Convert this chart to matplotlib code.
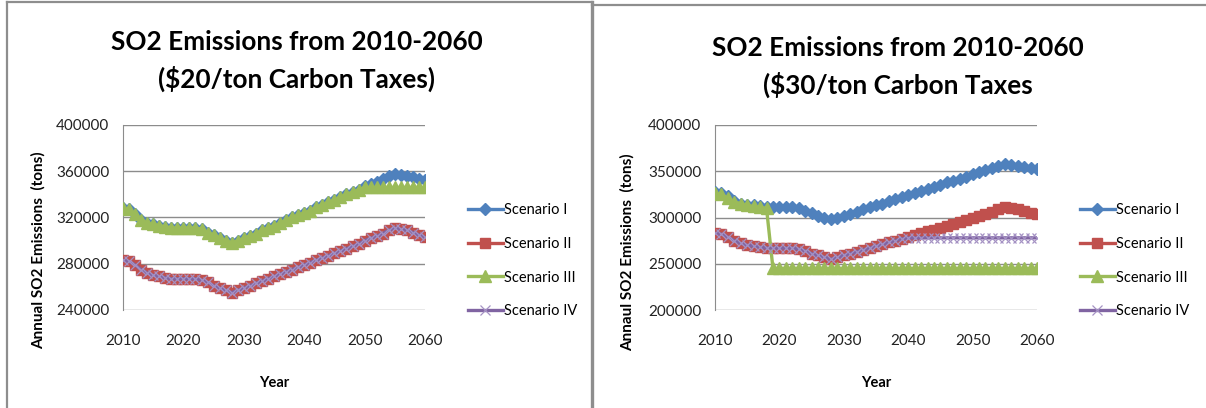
import numpy as np
import matplotlib
matplotlib.use("Agg")
import matplotlib.pyplot as plt
from matplotlib.lines import Line2D

# years on the x axis
years = np.arange(2010, 2061)

# $20/ton carbon tax
tax20_I = [328000, 327000, 323000, 318000, 315000, 314000, 313000, 312000, 311000, 311000,
           311000, 311000, 311000, 310000, 307000, 305000, 302000, 300000, 298000, 300000,
           302000, 304000, 306000, 309000, 311000, 313000, 315000, 318000, 320000, 322000,
           324000, 326000, 329000, 331000, 333000, 335000, 338000, 340000, 342000, 344000,
           347000, 349000, 351000, 353000, 356000, 358000, 357000, 356000, 355000, 353000,
           352000]
tax20_II = [283000, 282000, 279000, 275000, 272000, 270000, 269000, 268000, 267000, 267000,
            267000, 267000, 267000, 266000, 264000, 261000, 259000, 257000, 255000, 257000,
            259000, 261000, 263000, 265000, 267000, 269000, 271000, 273000, 275000, 277000,
            279000, 281000, 283000, 285000, 287000, 289000, 291000, 293000, 295000, 297000,
            300000, 302000, 304000, 306000, 309000, 311000, 310000, 309000, 307000, 305000,
            303000]
tax20_III = [328000, 327000, 323000, 318000, 315000, 314000, 313000, 312000, 311000, 311000,
             311000, 311000, 311000, 310000, 307000, 305000, 302000, 300000, 298000, 300000,
             302000, 304000, 306000, 309000, 311000, 313000, 315000, 318000, 320000, 322000,
             324000, 326000, 329000, 331000, 333000, 335000, 338000, 340000, 342000, 344000,
             346000, 346000, 346000, 346000, 346000, 346000, 346000, 346000, 346000, 346000,
             346000]
tax20_IV = [283000, 282000, 279000, 275000, 272000, 270000, 269000, 268000, 267000, 267000,
            267000, 267000, 267000, 266000, 264000, 261000, 259000, 257000, 255000, 257000,
            259000, 261000, 263000, 265000, 267000, 269000, 271000, 273000, 275000, 277000,
            279000, 281000, 283000, 285000, 287000, 289000, 291000, 293000, 295000, 297000,
            300000, 302000, 304000, 306000, 309000, 311000, 310000, 309000, 307000, 305000,
            303000]

# $30/ton carbon tax
tax30_I = [328000, 327000, 323000, 318000, 315000, 314000, 313000, 312000, 311000, 311000,
           311000, 311000, 311000, 310000, 307000, 305000, 302000, 300000, 298000, 300000,
           302000, 304000, 306000, 309000, 311000, 313000, 315000, 318000, 320000, 322000,
           324000, 326000, 329000, 331000, 333000, 335000, 338000, 340000, 342000, 344000,
           347000, 349000, 351000, 353000, 356000, 358000, 357000, 356000, 355000, 353000,
           352000]
tax30_II = [283000, 282000, 279000, 275000, 272000, 270000, 269000, 268000, 267000, 267000,
            267000, 267000, 267000, 266000, 264000, 261000, 259000, 257000, 255000, 257000,
            259000, 261000, 263000, 265000, 267000, 269000, 271000, 273000, 275000, 277000,
            279000, 281000, 283000, 285000, 287000, 289000, 291000, 293000, 295000, 297000,
            300000, 302000, 304000, 306000, 309000, 311000, 310000, 309000, 307000, 305000,
            304000]
tax30_III = [326000, 325000, 321000, 317000, 315000, 313000, 312000, 311000, 310000, 245000,
             245000, 245000, 245000, 245000, 245000, 245000, 245000, 245000, 245000, 245000,
             245000, 245000, 245000, 245000, 245000, 245000, 245000, 245000, 245000, 245000,
             245000, 245000, 245000, 245000, 245000, 245000, 245000, 245000, 245000, 245000,
             245000, 245000, 245000, 245000, 245000, 245000, 245000, 245000, 245000, 245000,
             245000]
tax30_IV = [283000, 282000, 279000, 275000, 272000, 270000, 269000, 268000, 267000, 267000,
            267000, 267000, 267000, 266000, 264000, 261000, 259000, 257000, 255000, 257000,
            259000, 261000, 263000, 265000, 267000, 269000, 271000, 273000, 275000, 277000,
            278000, 278000, 278000, 278000, 278000, 278000, 278000, 278000, 278000, 278000,
            278000, 278000, 278000, 278000, 278000, 278000, 278000, 278000, 278000, 278000,
            278000]

names = ["Scenario I", "Scenario II", "Scenario III", "Scenario IV"]
colors = ["#4F81BD", "#C0504D", "#9BBB59", "#8064A2"]
markers = ["D", "s", "^", "x"]
msizes = [6.2, 7.2, 8.5, 7.5]

font = ["Lato", "DejaVu Sans"]

W, H = 1206, 408
fig = plt.figure(figsize=(W / 100, H / 100), dpi=100)


def px_axes(x0, y0, x1, y1):
    return fig.add_axes([x0 / W, 1 - y1 / H, (x1 - x0) / W, (y1 - y0) / H])


def draw_chart(ax, series, yticks, title, ylabel, title_x, title_y, ylab_x, ylab_y, leg_x):
    for vals, name, c, m, ms in zip(series, names, colors, markers, msizes):
        if m == "x":
            ax.plot(years, vals, color=c, lw=2.4, marker=m, ms=ms, mew=0.9,
                    mec="#A592C4", label=name, zorder=3)
        else:
            ax.plot(years, vals, color=c, lw=2.4, marker=m, ms=ms, mec=c,
                    label=name, zorder=3)
    ax.set_xlim(2010, 2060)
    ax.set_ylim(yticks[0], yticks[-1])
    ax.set_xticks(range(2010, 2061, 10))
    ax.set_yticks(yticks)
    ax.grid(axis="y", color="#8C8C8C", lw=1.0)
    ax.set_axisbelow(True)
    for s in ["top", "right", "bottom"]:
        ax.spines[s].set_visible(False)
    ax.spines["left"].set_color("#8C8C8C")
    ax.tick_params(length=0, labelsize=11, colors="#222222", pad=10)
    ax.tick_params(axis="x", pad=17)
    for lab in ax.get_xticklabels() + ax.get_yticklabels():
        lab.set_family(font)
    ax.set_xlabel("Year", family=font, fontsize=10.5, fontweight="bold")
    ax.xaxis.set_label_coords(0.5, 1 - (376 - 125) / 185, transform=ax.transAxes)
    ax.set_ylabel(ylabel, family=font, fontsize=11, fontweight="bold", va="center")
    ax.yaxis.set_label_coords(ylab_x / W, 1 - ylab_y / H, transform=fig.transFigure)
    fig.text(title_x / W, 1 - title_y / H, title, family=font, fontsize=18.8,
             fontweight="bold", ha="center", va="center", linespacing=1.55)
    ax.legend(loc="upper left", bbox_to_anchor=(leg_x / W, 1 - 197 / H),
              bbox_transform=fig.transFigure, frameon=False, handlelength=2.4,
              handletextpad=0.1, labelspacing=1.36, borderaxespad=0,
              prop={"family": font, "size": 10.5})


ax1 = px_axes(123, 125, 425, 310)
draw_chart(ax1, [tax20_I, tax20_II, tax20_III, tax20_IV],
           [240000, 280000, 320000, 360000, 400000],
           "SO2 Emissions from 2010-2060\n($20/ton Carbon Taxes)",
           "Annual SO2 Emissions  (tons)", 297, 61, 38, 250, 462)

ax2 = px_axes(715, 125, 1037, 310)
draw_chart(ax2, [tax30_I, tax30_II, tax30_III, tax30_IV],
           [200000, 250000, 300000, 350000, 400000],
           "SO2 Emissions from 2010-2060\n($30/ton Carbon Taxes",
           "Annaul SO2 Emissions  (tons)", 898, 67, 627, 252, 1074)

# chart frames
frame = dict(color="#8E8E8E", lw=1.6, transform=fig.transFigure)
fig.add_artist(Line2D([7 / W, 7 / W], [0, 1 - 2 / H], **frame))
fig.add_artist(Line2D([7 / W, 592 / W], [1 - 2 / H, 1 - 2 / H], **frame))
fig.add_artist(Line2D([592 / W, 592 / W], [0, 1 - 2 / H], color="#8E8E8E", lw=2.4,
                      transform=fig.transFigure))
fig.add_artist(Line2D([592 / W, 1 / 1], [1 - 5 / H, 1 - 5 / H], **frame))

fig.savefig("out.png", dpi=100, facecolor="white")
